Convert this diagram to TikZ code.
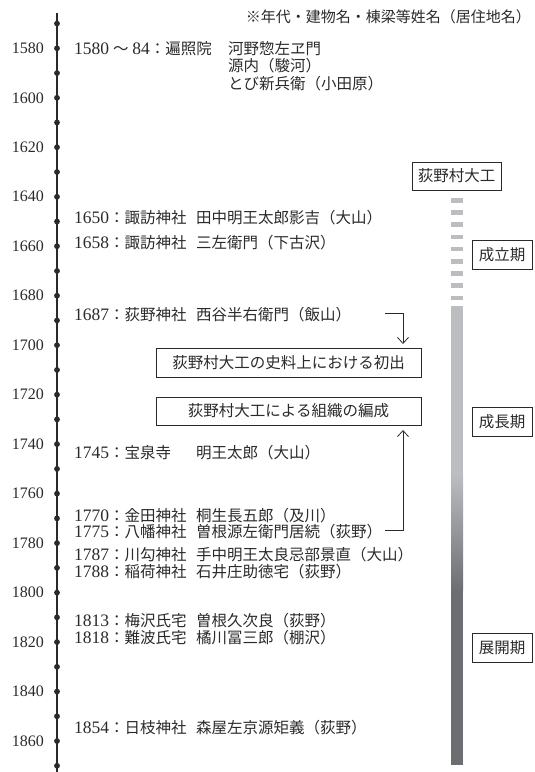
\documentclass[tikz,border=0pt]{standalone}
\usepackage{fontspec}
\setmainfont{Liberation Serif}
\newfontfamily\jp{Noto Sans CJK JP}
\usetikzlibrary{arrows.meta}
\definecolor{ink}{HTML}{2A2A2A}
\definecolor{barlight}{HTML}{BCBDC0}
\definecolor{bardark}{HTML}{6D6E72}
\newcommand\dg[1]{{\fontsize{17.5}{18}\selectfont #1}}
\newcommand\ent[3]{\makebox[122pt][l]{\dg{#1}{\jp：#2}}{\jp #3}}
\tikzset{
  entry/.style={anchor=west, inner sep=0pt, text height=11.5pt, text depth=2.5pt, text=ink, font=\fontsize{15.5}{18}\selectfont},
  yearlab/.style={anchor=east, inner sep=0pt, text=ink, font=\fontsize{16}{18}\selectfont},
  frame/.style={draw=ink, line width=0.8pt, inner sep=0pt, text=ink, font=\jp\fontsize{15.5}{18}\selectfont},
  tickdot/.style={circle, fill=ink, inner sep=0pt, minimum size=5.8pt},
  arr/.style={draw=ink, line width=0.8pt, -{Straight Barb[length=6pt,width=11pt]}},
}
\begin{document}
\begin{tikzpicture}[x=1pt,y=-1pt]
\useasboundingbox (0,0) rectangle (535,772);
% axis
\coordinate (atop) at (57,12.7);
\coordinate (abot) at (57,772);
\draw[ink, line width=1.2pt] (atop) -- (abot);
\foreach \k in {0,...,30}{
  \node[tickdot] (d\k) at (57,{23.56+\k*24.74}) {};
}
\foreach \k/\yr in {1/1580,3/1600,5/1620,7/1640,9/1660,11/1680,13/1700,15/1720,17/1740,19/1760,21/1780,23/1800,25/1820,27/1840,29/1860}{
  \node[yearlab] (y\yr) at (44,{23.56+\k*24.74}) {\yr};
}
% header
\node[entry, anchor=east, font=\fontsize{15}{18}\selectfont] (hdr) at (531,18) {\jp ※年代・建物名・棟梁等姓名（居住地名）};
% entries
\node[entry] (e1580) at (74,49.5) {\makebox[154pt][l]{\dg{1580} {\jp ～} \dg{84}{\jp：遍照院}}{\jp 河野惣左ヱ門}};
\node[entry] (e1580b) at (228,67) {\jp 源内（駿河）};
\node[entry] (e1580c) at (228,84.5) {\jp とび新兵衛（小田原）};
\node[entry] (e1650) at (74,219) {\ent{1650}{諏訪神社}{田中明王太郎影吉（大山）}};
\node[entry] (e1658) at (74,244) {\ent{1658}{諏訪神社}{三左衛門（下古沢）}};
\node[entry] (e1687) at (74,316) {\ent{1687}{荻野神社}{西谷半右衛門（飯山）}};
\node[entry] (e1745) at (74,454) {\ent{1745}{宝泉寺}{明王太郎（大山）}};
\node[entry] (e1770) at (74,517) {\ent{1770}{金田神社}{桐生長五郎（及川）}};
\node[entry] (e1775) at (74,533) {\ent{1775}{八幡神社}{曽根源左衛門居続（荻野）}};
\node[entry] (e1787) at (74,556) {\ent{1787}{川勾神社}{手中明王太良忌部景直（大山）}};
\node[entry] (e1788) at (74,573) {\ent{1788}{稲荷神社}{石井庄助徳宅（荻野）}};
\node[entry] (e1813) at (74,621.5) {\ent{1813}{梅沢氏宅}{曽根久次良（荻野）}};
\node[entry] (e1818) at (74,638.5) {\ent{1818}{難波氏宅}{橘川冨三郎（棚沢）}};
\node[entry] (e1854) at (74,728.5) {\ent{1854}{日枝神社}{森屋左京源矩義（荻野）}};
% central boxes
\node[frame, minimum width=265pt, minimum height=29pt] (b1) at (288.5,362.5) {荻野村大工の史料上における初出};
\node[frame, minimum width=265pt, minimum height=28pt] (b2) at (288.5,411) {荻野村大工による組織の編成};
% arrows
\coordinate (s1) at (385,313);
\coordinate (t1) at (403,344);
\draw[arr] (s1) -| (t1);
\coordinate (s2) at (385,530);
\coordinate (t2) at (403,430);
\draw[arr] (s2) -| (t2);
% right column
\node[frame, minimum width=89pt, minimum height=28pt] (ogino) at (456.5,176) {荻野村大工};
\foreach \k in {0,...,8}{
  \fill[barlight] (451,{198+\k*12.2}) rectangle (463,{202.5+\k*12.2});
}
\fill[barlight] (451,306) rectangle (463,475);
\shade[top color=barlight, bottom color=bardark] (451,474.5) rectangle (463,590.5);
\fill[bardark] (451,590) rectangle (463,765);
\node[frame, minimum width=60pt, minimum height=29pt] (p1) at (502,254.5) {成立期};
\node[frame, minimum width=60pt, minimum height=29pt] (p2) at (502,421.5) {成長期};
\node[frame, minimum width=60pt, minimum height=29pt] (p3) at (502,647.5) {展開期};
\end{tikzpicture}
\end{document}
